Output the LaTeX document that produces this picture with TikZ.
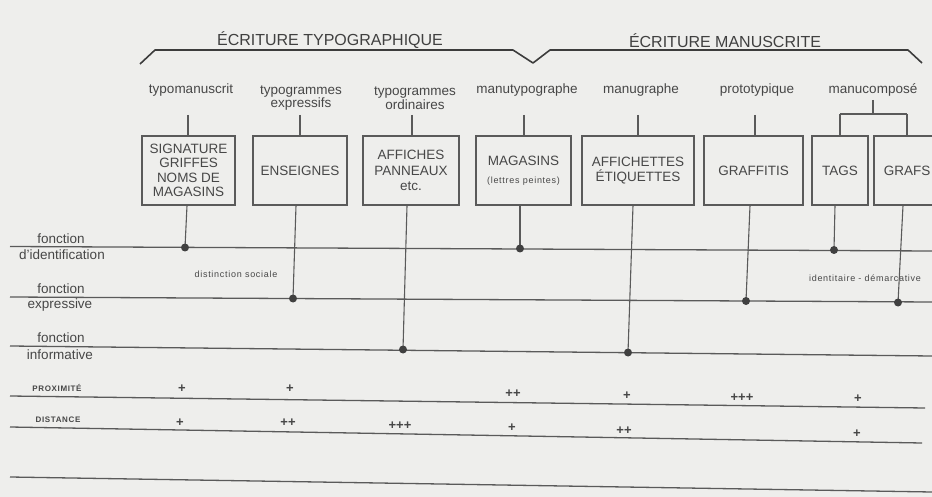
\documentclass[tikz,border=0pt]{standalone}
\usepackage{fontspec}
\setmainfont{Liberation Sans}
\newfontfamily\spacedfont[LetterSpace=8]{Liberation Sans}
\definecolor{ink}{HTML}{474747}
\definecolor{rule}{HTML}{5A5A5A}
\definecolor{paper}{HTML}{EEEEEC}
\tikzset{
  lab/.style={font=\fontsize{13.5}{13.5}\selectfont, text=ink, inner sep=0pt, align=center},
  title/.style={font=\fontsize{16}{18}\selectfont, text=ink!90!black, inner sep=0pt},
  box/.style={draw=rule, line width=1.1pt, minimum height=69pt, inner sep=0pt,
    font=\fontsize{13.5}{14.5}\selectfont, text=ink, align=center},
  tiny/.style={font=\spacedfont\fontsize{9}{10}\selectfont, text=ink, inner sep=0pt},
  rowlab/.style={font=\spacedfont\bfseries\fontsize{8}{9}\selectfont, text=ink, inner sep=0pt},
  plusmark/.style={font=\bfseries\fontsize{13}{13}\selectfont, text=ink, inner sep=0pt},
  fline/.style={draw=rule, line width=1.3pt},
  tick/.style={draw=rule, line width=1.1pt},
  brace/.style={draw=ink!85!black, line width=1.6pt, line join=round},
  dot/.style={fill=ink!90!black}
}
\begin{document}
\begin{tikzpicture}[x=1pt,y=-1pt]
\useasboundingbox (0,0) rectangle (932,497);
\fill[paper] (0,0) rectangle (932,497);
\clip (0,0) rectangle (932,497);

% titles and brackets
\node[title] (t1) at (330,40.5) {ÉCRITURE TYPOGRAPHIQUE};
\node[title] (t2) at (725,40.5) {ÉCRITURE MANUSCRITE};
\draw[brace] (140,64) -- (155,50) -- (513,50) -- (533,63) -- (550,50) -- (908,50) -- (922,63);

% column labels
\node[lab] (c1) at (191,90) {typomanuscrit};
\node[lab] (c2) at (301,98) {typogrammes\\expressifs};
\node[lab] (c3) at (415,98) {typogrammes\\ordinaires};
\node[lab] (c4) at (527,90) {manutypographe};
\node[lab] (c5) at (641,90) {manugraphe};
\node[lab] (c6) at (757,90) {prototypique};
\node[lab] (c7) at (873,90) {manucomposé};

% boxes
\node[box, minimum width=93] (b1) at (188.5,170.5) {SIGNATURE\\GRIFFES\\NOMS DE\\MAGASINS};
\node[box, minimum width=94] (b2) at (300,170.5) {ENSEIGNES};
\node[box, minimum width=96] (b3) at (411,170.5) {AFFICHES\\[1pt]PANNEAUX\\[1pt]etc.};
\node[box, minimum width=95] (b4) at (523.5,170.5) {MAGASINS\\[3pt]{\spacedfont\fontsize{9}{10}\selectfont (lettres peintes)}};
\node[box, minimum width=112] (b5) at (638,170.5) {AFFICHETTES\\ÉTIQUETTES};
\node[box, minimum width=99] (b6) at (753.5,170.5) {GRAFFITIS};
\node[box, minimum width=56] (b7) at (840,170.5) {TAGS};
\node[box, minimum width=66] (b8) at (907,170.5) {GRAFS};

% ticks from labels to boxes
\foreach \b/\x in {b1/188,b2/300,b3/412,b4/524,b5/638,b6/755}
  \draw[tick] (\x,115) -- (\x,0 |- \b.north);
\coordinate (m0) at (873,100);
\coordinate (m1) at (873,114);
\draw[tick] (m0) -- (m1);
\draw[tick] (b7.north |- m1) -- (b8.north |- m1);
\draw[tick] (b7.north |- m1) -- (b7.north);
\draw[tick] (b8.north |- m1) -- (b8.north);

% function lines
\draw[fline] (10,246.5) coordinate (l1a) -- (932,251) coordinate (l1b);
\draw[fline] (10,297) coordinate (l2a) -- (932,302) coordinate (l2b);
\draw[fline] (10,346) coordinate (l3a) -- (932,356) coordinate (l3b);

\node[lab] (f1) at (61,239) {fonction};
\node[lab] (f1b) at (62,255) {d'identification};
\node[lab] (f2) at (61,289) {fonction};
\node[lab] (f2b) at (60,305) {expressive};
\node[lab] (f3) at (61,338) {fonction};
\node[lab] (f3b) at (60,355) {informative};

\node[tiny] (ds) at (236,274) {distinction sociale};
\node[tiny] (id) at (865,278.5) {identitaire - démarcative};

% dots
\coordinate (d1) at (185,247.5);
\coordinate (d2) at (293,298.5);
\coordinate (d3) at (403,349.5);
\coordinate (d4) at (520,248.5);
\coordinate (d5) at (628,352.5);
\coordinate (d6) at (746,301);
\coordinate (d7) at (834,250);
\coordinate (d8) at (898,302.5);
\foreach \b/\x/\d in {b1/187/d1,b2/296/d2,b3/407/d3,b4/520/d4,b5/633/d5,b6/750/d6,b7/835/d7,b8/903/d8}{
  \draw[tick] (\x,0 |- \b.south) -- (\d);
  \fill[dot] (\d) circle (4);
}

% bottom rows
\draw[fline] (10,396) -- (925,408);
\draw[fline] (10,427) -- (922,443);
\draw[fline] (10,477) -- (932,492);
\node[rowlab] (px) at (57,388) {PROXIMITÉ};
\node[rowlab] (dt) at (58,420) {DISTANCE};

\node[plusmark] (p1) at (182,389) {+};
\node[plusmark] (p2) at (290,389) {+};
\node[plusmark] (p3) at (513,394) {++};
\node[plusmark] (p4) at (627,396) {+};
\node[plusmark] (p5) at (742,398) {+++};
\node[plusmark] (p6) at (858,399) {+};

\node[plusmark] (q1) at (180,423) {+};
\node[plusmark] (q2) at (288,423) {++};
\node[plusmark] (q3) at (400,426) {+++};
\node[plusmark] (q4) at (512,428) {+};
\node[plusmark] (q5) at (624,431) {++};
\node[plusmark] (q6) at (857,434) {+};
\end{tikzpicture}
\end{document}
